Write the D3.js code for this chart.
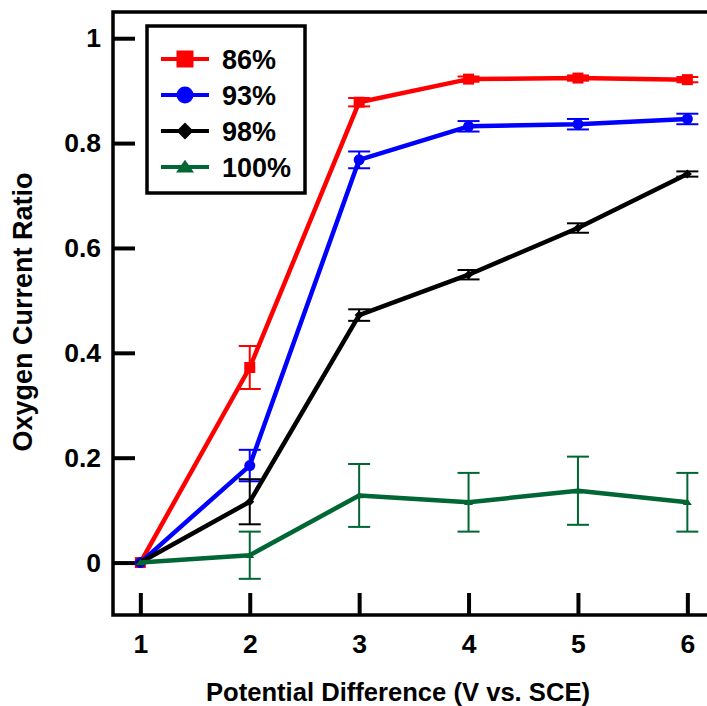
<!DOCTYPE html>
<html>
<head>
<meta charset="utf-8">
<script src="https://cdn.jsdelivr.net/npm/d3@7"></script>
<style>
  body { margin: 0; background: #fff; }
  svg { display: block; }
  svg text { font-family: "Liberation Sans", Arial, sans-serif; font-weight: bold; }
</style>
</head>
<body>
<svg width="707" height="706"></svg>
<script>
// data
var xValues = [1, 2, 3, 4, 5, 6];
var seriesNames = ['86%', '93%', '98%', '100%'];
var seriesColors = ['#ff0000', '#0000ff', '#000000', '#006633'];
var seriesMarkers = ['square', 'circle', 'diamond', 'triangle'];
var values86 = [0, 0.372, 0.878, 0.922, 0.924, 0.921];
var errors86 = [0, 0.041, 0.008, 0.005, 0.005, 0.005];
var values93 = [0, 0.185, 0.768, 0.832, 0.836, 0.846];
var errors93 = [0, 0.030, 0.016, 0.010, 0.010, 0.010];
var values98 = [0, 0.116, 0.472, 0.549, 0.638, 0.741];
var errors98 = [0, 0.043, 0.011, 0.009, 0.009, 0.005];
var values100 = [0, 0.014, 0.128, 0.115, 0.137, 0.115];
var errors100 = [0, 0.045, 0.060, 0.056, 0.065, 0.056];
var xTicks = [1, 2, 3, 4, 5, 6];
var yTicks = [0, 0.2, 0.4, 0.6, 0.8, 1];

var allValues = [values86, values93, values98, values100];
var allErrors = [errors86, errors93, errors98, errors100];

var svg = d3.select('svg');
var plotLeft = 113, plotTop = 12, plotBottom = 615;

var x = d3.scaleLinear().domain([0.75, 6.25]).range([plotLeft, plotLeft + 5.5 * 109.4]);
var y = d3.scaleLinear().domain([-0.1, 1.05]).range([plotBottom, plotTop]);

// axes with inward ticks
var xAxis = svg.append('g')
    .attr('transform', 'translate(0,' + plotBottom + ')')
    .call(d3.axisBottom(x).tickValues(xTicks).tickSizeInner(-22).tickSizeOuter(0).tickPadding(19).tickFormat(d3.format('d')));
var yAxis = svg.append('g')
    .attr('transform', 'translate(' + plotLeft + ',0)')
    .call(d3.axisLeft(y).tickValues(yTicks).tickSizeInner(-22).tickSizeOuter(0).tickPadding(12)
        .tickFormat(function(d){ return d === 0 ? '0' : (d === 1 ? '1' : d3.format('.1f')(d)); }));

[xAxis, yAxis].forEach(function(a){
    a.attr('font-family', null).attr('font-size', null);
    a.select('.domain').remove();
    a.selectAll('.tick line').attr('stroke', '#000').attr('stroke-width', 4);
    a.selectAll('.tick text').attr('fill', '#000').style('font-size', '26.5px');
});

// frame
svg.append('rect')
    .attr('x', plotLeft).attr('y', plotTop)
    .attr('width', 720 - plotLeft).attr('height', plotBottom - plotTop)
    .attr('fill', 'none').attr('stroke', '#000').attr('stroke-width', 3.5);

// marker shapes, s = full width in px
function markerPath(type, s) {
    var h = s / 2;
    if (type === 'square') return 'M' + -h + ',' + -h + 'H' + h + 'V' + h + 'H' + -h + 'Z';
    if (type === 'circle') return d3.symbol().type(d3.symbolCircle).size(Math.PI * h * h)();
    if (type === 'diamond') return 'M0,' + -h + 'L' + h + ',0L0,' + h + 'L' + -h + ',0Z';
    return 'M0,' + (-h * 0.8) + 'L' + h + ',' + (h * 0.6) + 'L' + -h + ',' + (h * 0.6) + 'Z';
}
var plotMarkerSize = [11, 11, 9, 9];
var legendMarkerSize = [17, 17, 17, 18];

var line = d3.line()
    .x(function(d){ return x(d.x); })
    .y(function(d){ return y(d.v); });

allValues.forEach(function(vals, i){
    var pts = xValues.map(function(xv, j){ return {x: xv, v: vals[j], e: allErrors[i][j]}; });
    var color = seriesColors[i];
    var g = svg.append('g');

    var eb = g.selectAll('.err').data(pts.filter(function(d){ return d.e > 0; })).enter().append('g')
        .attr('stroke', color).attr('stroke-width', 2);
    eb.append('line')
        .attr('x1', function(d){ return x(d.x); }).attr('x2', function(d){ return x(d.x); })
        .attr('y1', function(d){ return y(d.v + d.e); }).attr('y2', function(d){ return y(d.v - d.e); });
    eb.append('line')
        .attr('x1', function(d){ return x(d.x) - 11; }).attr('x2', function(d){ return x(d.x) + 11; })
        .attr('y1', function(d){ return y(d.v + d.e); }).attr('y2', function(d){ return y(d.v + d.e); });
    eb.append('line')
        .attr('x1', function(d){ return x(d.x) - 11; }).attr('x2', function(d){ return x(d.x) + 11; })
        .attr('y1', function(d){ return y(d.v - d.e); }).attr('y2', function(d){ return y(d.v - d.e); });

    g.append('path')
        .datum(pts)
        .attr('fill', 'none')
        .attr('stroke', color)
        .attr('stroke-width', 4.5)
        .attr('stroke-linejoin', 'round')
        .attr('d', line);

    g.selectAll('.mk').data(pts).enter().append('path')
        .attr('transform', function(d){ return 'translate(' + x(d.x) + ',' + y(d.v) + ')'; })
        .attr('d', markerPath(seriesMarkers[i], plotMarkerSize[i]))
        .attr('fill', color);
});

// legend
var legend = svg.append('g');
legend.append('rect')
    .attr('x', 147).attr('y', 26).attr('width', 158).attr('height', 167)
    .attr('fill', '#fff').attr('stroke', '#000').attr('stroke-width', 3.5);
seriesNames.forEach(function(name, i){
    var ly = 59 + i * 36;
    legend.append('line')
        .attr('x1', 161).attr('x2', 209).attr('y1', ly).attr('y2', ly)
        .attr('stroke', seriesColors[i]).attr('stroke-width', 4);
    legend.append('path')
        .attr('transform', 'translate(185,' + ly + ')')
        .attr('d', markerPath(seriesMarkers[i], legendMarkerSize[i]))
        .attr('fill', seriesColors[i]);
    legend.append('text')
        .attr('x', 222).attr('y', ly + 10)
        .style('font-size', '27px')
        .text(name);
});

// axis titles
svg.append('text')
    .attr('x', 398).attr('y', 701)
    .attr('text-anchor', 'middle')
    .style('font-size', '25.6px')
    .text('Potential Difference (V vs. SCE)');
svg.append('text')
    .attr('transform', 'translate(32,312) rotate(-90)')
    .attr('text-anchor', 'middle')
    .style('font-size', '27px')
    .text('Oxygen Current Ratio');
</script>
</body>
</html>
